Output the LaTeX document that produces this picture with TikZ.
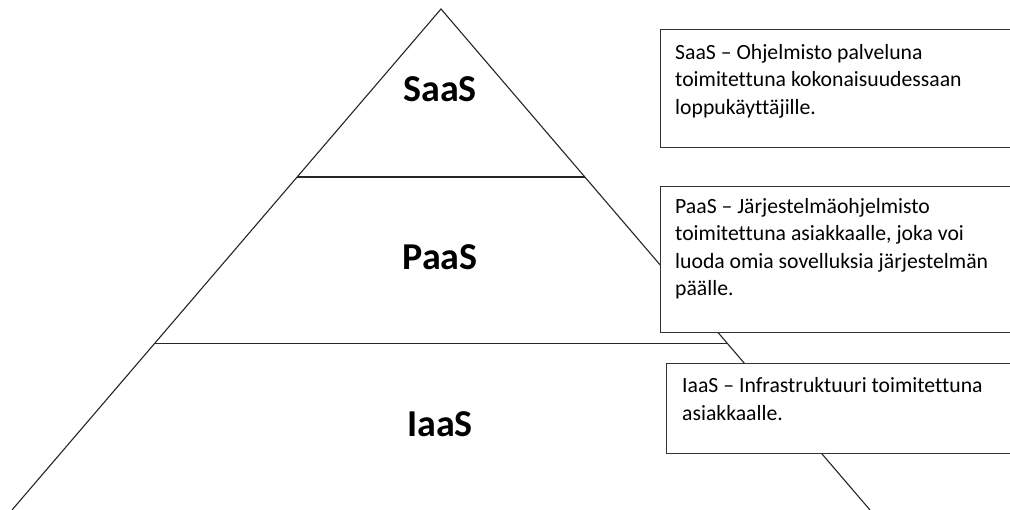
\documentclass[tikz,border=0pt]{standalone}
\usepackage{fontspec}
\setmainfont{Carlito}[Ligatures={TeX,NoCommon}]
\usetikzlibrary{calc}
\tikzset{
  edge/.style={draw=black!85, line width=1.1pt},
  infobox/.style={draw=black!80, line width=1.3pt, fill=white, rectangle, inner sep=0pt, anchor=north west},
  infotext/.style={anchor=base west, inner sep=0pt, text width=340pt, align=flush left, font=\fontsize{21.7}{27.5}\selectfont},
  level/.style={anchor=base, inner sep=0pt, font=\fontsize{38}{44}\selectfont\bfseries}
}
\begin{document}
\begin{tikzpicture}[x=1pt, y=-1pt]
\useasboundingbox (0,0) rectangle (1010,510);
\clip (0,0) rectangle (1010,510);
\fill[white] (0,0) rectangle (1010,510);
% pyramid
\coordinate (apex) at (441,9);
\coordinate (bl) at (12,510);
\coordinate (br) at (870,510);
\coordinate (l1) at ($(apex)!0.3353!(bl)$);
\coordinate (r1) at ($(apex)!0.3353!(br)$);
\coordinate (l2) at ($(apex)!0.6677!(bl)$);
\coordinate (r2) at ($(apex)!0.6677!(br)$);
\draw[edge] (bl) -- (apex) -- (br);
\draw[edge] (l1) -- (r1);
\draw[edge] (l2) -- (r2);
\node[level] (saas) at (440,102) {SaaS};
\node[level] (paas) at (440,270) {PaaS};
\node[level] (iaas) at (440,437) {IaaS};
% boxes
\node[infobox, minimum width=370pt, minimum height=118pt] (b1) at (660,29) {};
\node[infobox, minimum width=370pt, minimum height=146pt] (b2) at (660,186) {};
\node[infobox, minimum width=364pt, minimum height=90pt] (b3) at (666,363) {};
\node[infotext] (t1) at (675,59.3) {SaaS – Ohjelmisto palveluna\\toimitettuna kokonaisuudessaan\\loppukäyttäjille.};
\node[infotext] (t2) at (675,213.5) {PaaS – Järjestelmäohjelmisto\\toimitettuna asiakkaalle, joka voi\\luoda omia sovelluksia järjestelmän\\päälle.};
\node[infotext] (t3) at (682,393) {IaaS – Infrastruktuuri toimitettuna\\asiakkaalle.};
\end{tikzpicture}
\end{document}
